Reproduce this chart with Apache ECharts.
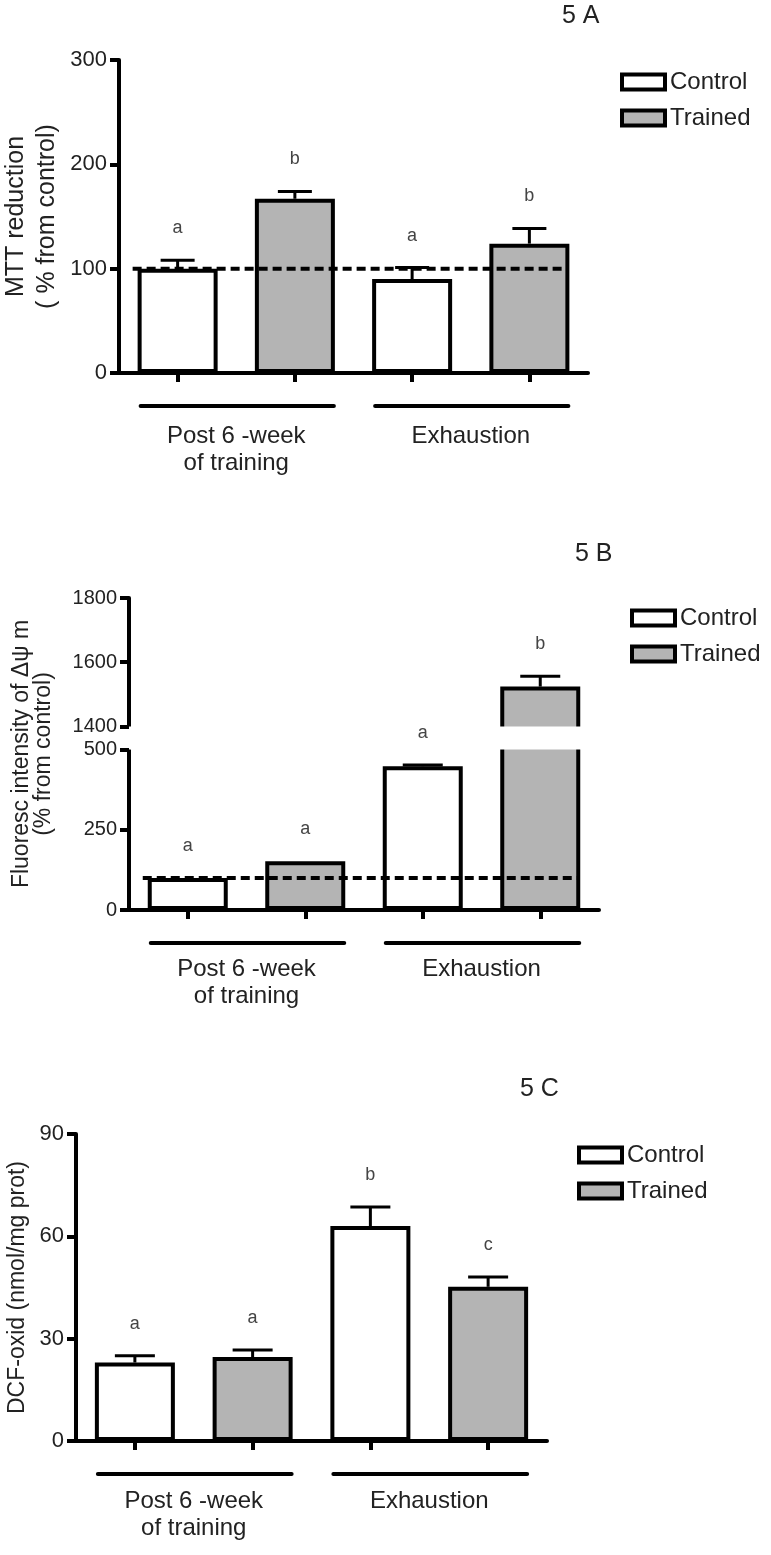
<!DOCTYPE html>
<html><head><meta charset="utf-8">
<script src="https://cdn.jsdelivr.net/npm/echarts@6.0.0/dist/echarts.min.js"></script>
<style>html,body{margin:0;padding:0;background:#fff}#c{width:771px;height:1555px}</style>
</head><body><div id="c"></div>
<script>
// ---------- DATA ----------
const categories = ['Control Post', 'Trained Post', 'Control Exh', 'Trained Exh'];
const groupLabels = ['Post 6 -week\nof training', 'Exhaustion'];
const groupSpans = [[0, 1], [2, 3]];
const seriesNames = ['Control', 'Trained'];
const refLineValue = 100;

// Panel 5A : MTT reduction (% from control)
const aControl = [100, '-', 90, '-'];
const aTrained = ['-', 167, '-', 124];
const aErrTop = [108, 174, 101, 138.5];
const aLetters = ['a', 'b', 'a', 'b'];
const aTicks = [0, 100, 200, 300];

// Panel 5B : Fluoresc intensity of Δψm (% from control)
const bControl = [100, '-', 448, '-'];
const bTrained = ['-', 152, '-', 1524];
const bErrTop = [100, 152, 452, 1556];
const bLetters = ['a', 'a', 'a', 'b'];
const bTicks = [0, 250, 500, 1400, 1600, 1800];
const bBreak = [500, 1400];

// Panel 5C : DCF-oxid (nmol/mg prot)
const cControl = [23, '-', 63, '-'];
const cTrained = ['-', 24.6, '-', 45.2];
const cErrTop = [25, 26.7, 68.6, 48.1];
const cLetters = ['a', 'a', 'b', 'c'];
const cTicks = [0, 30, 60, 90];

// ---------- LAYOUT / STYLE ----------
const FONT = 'Liberation Sans, Arial, sans-serif';
const INK = '#222';
const GREY = '#b4b4b4';
const BAR_W = 80;

const panels = [
  {title: '5 A', titlePos: {left: 562, top: 4}, legendPos: {left: 620, top: 70},
   grid: {left: 119, top: 60, width: 469, height: 313},
   yName: 'MTT reduction\n( % from control)', yNameSize: 25, yNameLH: 31, yNameGap: 56,
   tickFont: 22, groupMargin: 50, capHalf: 17,
   control: aControl, trained: aTrained, err: aErrTop, letters: aLetters, ticks: aTicks,
   min: 0, max: 300, refLine: true},
  {title: '5 B', titlePos: {left: 575, top: 542}, legendPos: {left: 630, top: 606},
   grid: {left: 129, top: 598, width: 470, height: 312},
   yName: 'Fluoresc intensity of Δψ m\n(% from control)', yNameSize: 23, yNameLH: 22, yNameGap: 74,
   tickFont: 20, groupMargin: 46, capHalf: 20,
   control: bControl, trained: bTrained, err: bErrTop, letters: bLetters, ticks: bTicks,
   min: 0, max: 1800, refLine: true, brk: bBreak},
  {title: '5 C', titlePos: {left: 520, top: 1077}, legendPos: {left: 577, top: 1143},
   grid: {left: 76, top: 1134, width: 471, height: 307},
   yName: 'DCF-oxid (nmol/mg prot)', yNameSize: 23, yNameLH: 27, yNameGap: 45,
   tickFont: 22, groupMargin: 47, capHalf: 20,
   control: cControl, trained: cTrained, err: cErrTop, letters: cLetters, ticks: cTicks,
   min: 0, max: 90, refLine: false}
];

function errRender(letters, capHalf) {
  return function (params, api) {
    const i = api.value(0), v = api.value(1), e = api.value(2);
    const p0 = api.coord([i, v]);
    const p1 = api.coord([i, e]);
    const children = [];
    if (p0[1] - p1[1] > 0.5) {
      children.push({type: 'line', shape: {x1: p0[0], y1: p0[1], x2: p1[0], y2: p1[1]}, style: {stroke: '#000', lineWidth: 3}});
      children.push({type: 'line', shape: {x1: p1[0] - capHalf, y1: p1[1], x2: p1[0] + capHalf, y2: p1[1]}, style: {stroke: '#000', lineWidth: 3}});
    }
    children.push({type: 'text', style: {text: letters[params.dataIndex], x: p1[0], y: p1[1] - 32,
      align: 'center', verticalAlign: 'middle', fontSize: 18, fontFamily: FONT, fill: '#444'}});
    return {type: 'group', children: children};
  };
}
function groupRender(params, api) {
  const a = api.coord([api.value(0), 0]);
  const b = api.coord([api.value(1), 0]);
  return {type: 'line', shape: {x1: a[0] - 37, y1: a[1] + 33, x2: b[0] + 39, y2: a[1] + 33},
    style: {stroke: '#000', lineWidth: 4, lineCap: 'round'}};
}
function refRender(params, api) {
  const v = api.value(1);
  const a = api.coord([0, v]);
  const b = api.coord([categories.length - 1, v]);
  return {type: 'line', shape: {x1: a[0] - 45, y1: a[1], x2: b[0] + 39.5, y2: a[1]},
    style: {stroke: '#000', lineWidth: 4, lineDash: [9, 5]}};
}

const option = {animation: false, backgroundColor: '#fff',
  title: [], legend: [], grid: [], xAxis: [], yAxis: [], series: []};

panels.forEach(function (p, k) {
  option.title.push({text: p.title, left: p.titlePos.left, top: p.titlePos.top, padding: 0,
    textStyle: {fontSize: 25, fontWeight: 'normal', color: INK, fontFamily: FONT}});
  option.legend.push({data: seriesNames, orient: 'vertical', left: p.legendPos.left, top: p.legendPos.top,
    padding: 0, itemWidth: 43, itemHeight: 15, itemGap: 12, icon: 'rect', selectedMode: false,
    itemStyle: {borderColor: '#000', borderWidth: 4},
    textStyle: {fontSize: 24, color: INK, fontFamily: FONT}});
  option.grid.push(Object.assign({containLabel: false, outerBoundsMode: 'none'}, p.grid));
  // main category axis (index 2k)
  option.xAxis.push({type: 'category', gridIndex: k, data: categories,
    axisLine: {show: true, lineStyle: {color: '#000', width: 4}},
    axisTick: {show: true, alignWithLabel: true, length: 9, lineStyle: {color: '#000', width: 4}},
    axisLabel: {show: false}, splitLine: {show: false}});
  // group label axis (index 2k+1)
  option.xAxis.push({type: 'category', gridIndex: k, data: groupLabels, position: 'bottom',
    axisLine: {show: false}, axisTick: {show: false}, splitLine: {show: false},
    axisLabel: {show: true, margin: p.groupMargin, fontSize: 24, lineHeight: 27, color: INK, fontFamily: FONT, interval: 0}});
  const y = {type: 'value', gridIndex: k, min: p.min, max: p.max,
    axisLine: {show: true, lineStyle: {color: '#000', width: 4}},
    axisTick: {show: true, length: 9, lineStyle: {color: '#000', width: 4}, customValues: p.ticks},
    axisLabel: {show: true, margin: 12, fontSize: p.tickFont, color: INK, fontFamily: FONT, customValues: p.ticks,
      formatter: function (v) { return String(v); }},
    splitLine: {show: false},
    name: p.yName, nameLocation: 'middle', nameGap: p.yNameGap, nameMoveOverlap: false,
    nameTextStyle: {fontSize: p.yNameSize, lineHeight: p.yNameLH, color: INK, fontFamily: FONT}};
  if (p.brk) {
    y.breaks = [{start: p.brk[0], end: p.brk[1], gap: '7.4%'}];
    y.breakArea = {show: true, expandOnClick: false, zigzagAmplitude: 0, zigzagZ: 100,
      itemStyle: {color: '#fff', borderWidth: 0, borderColor: '#fff', opacity: 1}};
  }
  option.yAxis.push(y);

  const xi = 2 * k;
  option.series.push({name: seriesNames[0], type: 'bar', xAxisIndex: xi, yAxisIndex: k, data: p.control,
    barWidth: BAR_W, barGap: '-100%', itemStyle: {color: '#fff', borderColor: '#000', borderWidth: 4}, z: 2});
  option.series.push({name: seriesNames[1], type: 'bar', xAxisIndex: xi, yAxisIndex: k, data: p.trained,
    barWidth: BAR_W, barGap: '-100%', itemStyle: {color: GREY, borderColor: '#000', borderWidth: 4}, z: 2});
  if (p.refLine) {
    option.series.push({name: 'ref' + k, type: 'custom', xAxisIndex: xi, yAxisIndex: k, z: 5,
      data: [[0, refLineValue]], renderItem: refRender, silent: true});
  }
  const vals = p.control.map(function (v, i) { return v === '-' ? p.trained[i] : v; });
  option.series.push({name: 'err' + k, type: 'custom', xAxisIndex: xi, yAxisIndex: k, z: 200,
    data: vals.map(function (v, i) { return [i, v, p.err[i]]; }),
    renderItem: errRender(p.letters, p.capHalf), silent: true});
  option.series.push({name: 'grp' + k, type: 'custom', xAxisIndex: xi, yAxisIndex: k, z: 5, clip: false,
    data: groupSpans.map(function (g) { return [g[0], g[1]]; }),
    encode: {x: 0, y: 1}, renderItem: groupRender, silent: true});
});

const chart = echarts.init(document.getElementById('c'), null, {renderer: 'canvas'});
chart.setOption(option);
</script></body></html>
